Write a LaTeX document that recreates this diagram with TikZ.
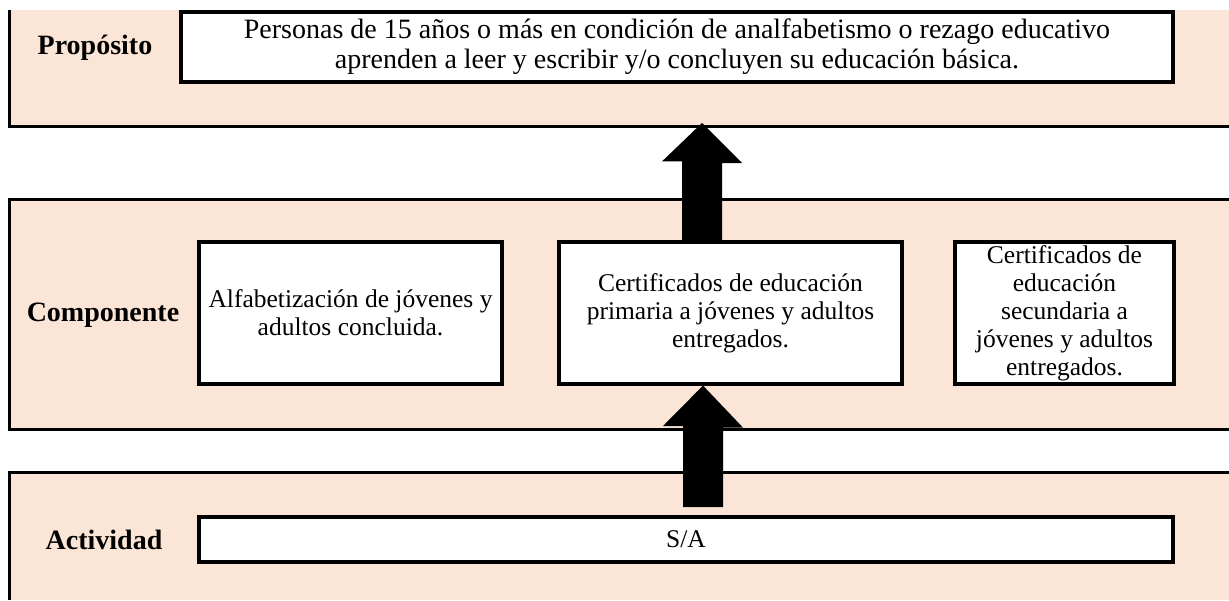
\documentclass[tikz,border=0pt]{standalone}
\usepackage{fontspec}
\setmainfont{Liberation Serif}
\definecolor{bandfill}{HTML}{FBE5D6}

\begin{document}
\begin{tikzpicture}[x=0.5pt,y=-0.5pt,font=\fontsize{12.75pt}{14pt}\selectfont,
    band/.style={fill=bandfill},
    bandline/.style={line width=1.5pt},
    textbox/.style={draw,line width=1.6pt,fill=white,align=center,inner sep=0pt},
    levellabel/.style={font=\fontsize{14pt}{15pt}\selectfont\bfseries}]
    \useasboundingbox (0,0) rectangle (1229,600);
    \fill[band] (9,10) rectangle (1229,126);
    \fill[band] (9,199) rectangle (1229,429);
    \fill[band] (9,472) rectangle (1229,600);
    \draw[bandline] (9,10) -- (9,126) -- (1229,126);
    \draw[bandline] (1229,199) -- (9,199) -- (9,429) -- (1229,429);
    \draw[bandline] (1229,472) -- (9,472) -- (9,600);
    \node[levellabel] (labProp) at (95,48) {Propósito};
    \node[levellabel] (labComp) at (103,315) {Componente};
    \node[levellabel] (labAct) at (104,540) {Actividad};
    \node[textbox,font=\fontsize{14pt}{15pt}\selectfont,minimum width=496pt,minimum height=35pt] (boxProp) at (677,47)
      {Personas de 15 años o más en condición de analfabetismo o rezago educativo\\
       aprenden a leer y escribir y/o concluyen su educación básica.};
    \node[textbox,minimum width=151.5pt,minimum height=71pt] (boxA) at (350.5,313)
      {Alfabetización de jóvenes y\\adultos concluida.};
    \node[textbox,minimum width=171.5pt,minimum height=71pt] (boxB) at (730.5,313)
      {Certificados de educación\\primaria a jóvenes y adultos\\entregados.};
    \node[textbox,minimum width=109.5pt,minimum height=71pt] (boxC) at (1064.5,313)
      {Certificados de\\educación\\secundaria a\\jóvenes y adultos\\entregados.};
    \node[textbox,minimum width=487pt,minimum height=22.5pt] (boxAct) at (686,539.5) {S/A};
    \coordinate (tipProp) at (702,123);
    \coordinate (tailAct) at (703,507);
    % block arrows
    \fill (tipProp) -- ++(40,40) -- ++(-20,0) -- ([xshift=10pt]boxB.north -| tipProp)
      -- ([xshift=-10pt]boxB.north -| tipProp) -- ++(0,-79) -- ++(-20,0) -- cycle;
    \fill (boxB.south -| tailAct) -- ++(40,42) -- ++(-20,0) -- ([xshift=10pt]tailAct)
      -- ([xshift=-10pt]tailAct) -- ++(0,-81) -- ++(-20,0) -- cycle;
  \end{tikzpicture}
\end{document}
